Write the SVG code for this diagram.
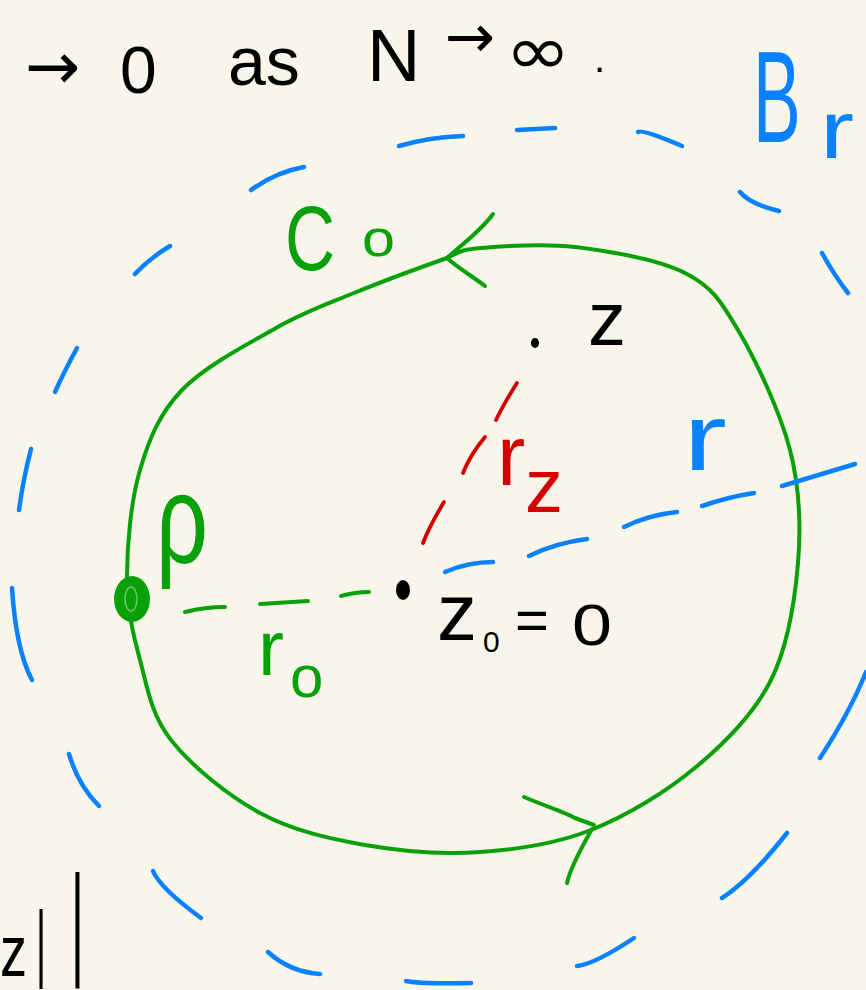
<svg xmlns="http://www.w3.org/2000/svg" width="866" height="990" viewBox="0 0 866 990">
<style>
.bg{fill:#f8f6ea}
.blue{fill:none;stroke:#0a82ff;stroke-width:4.5;stroke-linecap:round;stroke-linejoin:round}
.green{fill:none;stroke:#0aa00a;stroke-width:4;stroke-linecap:round;stroke-linejoin:round}
.red{fill:none;stroke:#d40000;stroke-width:3.8;stroke-linecap:round}
.t{font-family:"Liberation Sans","DejaVu Sans",sans-serif}
.d{font-family:"DejaVu Sans","Liberation Sans",sans-serif}
.k{fill:#000}
.tb{fill:#0a82ff}
.tg{fill:#0aa00a}
.tr{fill:#d40000}
</style>
<rect class="bg" x="0" y="0" width="866" height="990"/>

<g id="heading">
  <text class="d k" x="25" y="89" font-size="66">→</text>
  <text class="t k" x="120" y="93" font-size="66">0</text>
  <text class="t k" x="228" y="85" font-size="68">as</text>
  <text class="t k" x="367" y="81" font-size="74">N</text>
  <text class="d k" x="445" y="57" font-size="60">→</text>
  <text class="d k" x="505" y="74" font-size="68" textLength="66" lengthAdjust="spacingAndGlyphs">∞</text>
  <text class="t k" x="594" y="72" font-size="40">.</text>
</g>

<g id="ball-Br">
  <path class="blue" d="M399,146 Q430,137 463,136"/>
  <path class="blue" d="M517,130 L555,128"/>
  <path class="blue" d="M638,132 Q642,129 682,146"/>
  <path class="blue" d="M251,190 Q276,172 304,167"/>
  <path class="blue" d="M740,192 Q750,204 779,211"/>
  <path class="blue" d="M135,274 Q150,258 170,246"/>
  <path class="blue" d="M822,253 Q834,275 848,293"/>
  <path class="blue" d="M77,348 Q64,372 55,392"/>
  <path class="blue" d="M31,449 Q23,480 19,510"/>
  <path class="blue" d="M12,588 Q16,650 32,680"/>
  <path class="blue" d="M866,672 Q850,712 820,758"/>
  <path class="blue" d="M69,754 Q78,785 99,806"/>
  <path class="blue" d="M153,871 Q160,888 201,918"/>
  <path class="blue" d="M268,952 Q290,972 320,974"/>
  <path class="blue" d="M406,981 Q420,984 471,983"/>
  <path class="blue" d="M577,966 Q595,964 634,938"/>
  <path class="blue" d="M722,898 Q750,880 787,833"/>
  <text class="t tb" transform="translate(753,142) scale(0.55,1)" x="0" y="0" font-size="130">B</text>
  <text class="t tb" transform="translate(820,158) scale(1.25,1)" x="0" y="0" font-size="82">r</text>
</g>

<g id="contour-C0">
  <path class="green" d="M447,258 C425.8,265.5 382.5,281.3 354,293 C325.5,304.7 304.7,311.8 276,328 C247.3,344.2 204.7,366.3 182,390 C159.3,413.7 149.2,438.8 140,470 C130.8,501.2 127,545.3 127,577 C127,608.7 132.7,632.8 140,660 C147.3,687.2 151,714.5 171,740 C191,765.5 227.7,795.5 260,813 C292.3,830.5 328.3,838.5 365,845 C401.7,851.5 442.3,854.5 480,852 C517.7,849.5 555,844.2 591,830 C627,815.8 666,792 696,767 C726,742 754,714 771,680 C788,646 794.8,601.3 798,563 C801.2,524.7 800,488.8 790,450 C780,411.2 755.5,359.5 738,330 C720.5,300.5 712.2,286.8 685,273 C657.8,259.2 609,251.2 575,247 C541,242.8 502.3,246.2 481,248 C459.7,249.8 460,252 447,258 Z"/>
  <path class="green" d="M493,214 C480,232 462,244 447,258 C458,268 472,276 485,286"/>
  <path class="green" d="M524,797 C545,806 565,812 575,818 L594,825 M592,829 C580,850 570,870 567,883"/>
  <text class="t tg" x="285" y="270" font-size="90" textLength="50" lengthAdjust="spacingAndGlyphs">C</text>
  <text class="t tg" x="362" y="256" font-size="52" textLength="33" lengthAdjust="spacingAndGlyphs">o</text>
</g>

<g id="point-rho">
  <ellipse cx="132" cy="599" rx="18" ry="23" fill="#0aa00a"/>
  <ellipse cx="131" cy="599" rx="6" ry="12" fill="none" stroke="#6cc86c" stroke-width="1.5"/>
  <text class="t tg" x="156" y="563" font-size="126" textLength="52" lengthAdjust="spacingAndGlyphs">ρ</text>
</g>

<g id="point-z0">
  <ellipse cx="403" cy="590" rx="7" ry="10" fill="#000"/>
  <text class="t k" x="437" y="640" font-size="80">z</text>
  <text class="t k" x="483" y="652" font-size="30">0</text>
  <text class="t k" x="515" y="640" font-size="58">=</text>
  <text class="t k" x="572" y="645" font-size="58" textLength="40" lengthAdjust="spacingAndGlyphs">0</text>
</g>

<g id="point-z">
  <ellipse cx="535" cy="343" rx="4" ry="5" fill="#000"/>
  <text class="t k" x="588" y="345" font-size="76">z</text>
</g>

<g id="connectors">
  <g id="radius-r">
    <path class="blue" d="M445,572 Q468,562 493,562"/>
    <path class="blue" d="M529,556 Q555,543 587,539"/>
    <path class="blue" d="M624,527 Q648,515 677,512"/>
    <path class="blue" d="M702,506 Q728,497 754,493"/>
    <path class="blue" d="M782,486 L855,464"/>
  </g>
  <g id="radius-rz">
    <path class="red" d="M517,383 Q503,405 496,420"/>
    <path class="red" d="M485,437 Q470,455 463,473"/>
    <path class="red" d="M444,502 Q430,525 423,543"/>
  </g>
  <g id="radius-r0">
    <path class="green" d="M185,612 Q205,607 225,607"/>
    <path class="green" d="M260,604 L308,601"/>
    <path class="green" d="M341,596 Q355,592 369,592"/>
  </g>
</g>

<g id="labels">
  <text class="t tb" x="683" y="470" font-size="95" textLength="44" lengthAdjust="spacingAndGlyphs">r</text>
  <text class="t tr" x="497" y="485" font-size="85">r</text>
  <text class="t tr" x="525" y="512" font-size="76">z</text>
  <text class="t tg" x="258" y="675" font-size="78">r</text>
  <text class="t tg" x="290" y="697" font-size="60">o</text>
</g>

<g id="fragment">
  <text class="t k" x="0" y="976" font-size="72" textLength="27" lengthAdjust="spacingAndGlyphs">z</text>
  <text class="t k" transform="translate(36,971) scale(0.45,1)" x="0" y="0" font-size="86">|</text>
  <text class="t k" transform="translate(71,962) scale(0.4,1)" x="0" y="0" font-size="124">|</text>
</g>
</svg>
